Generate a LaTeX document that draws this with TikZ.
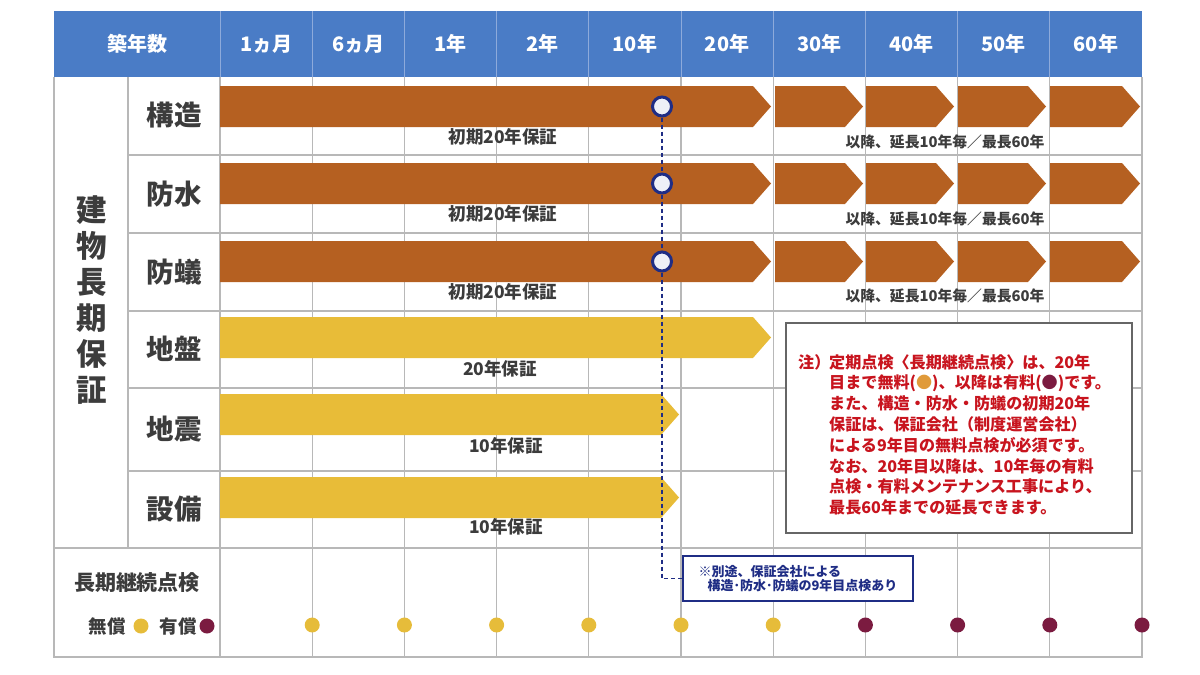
\documentclass[tikz,border=0pt]{standalone}
\usepackage{fontspec}
\setmainfont{Noto Sans CJK JP}
\usetikzlibrary{positioning,backgrounds}
\definecolor{hdrblue}{HTML}{4A7CC6}
\definecolor{hdrsep}{HTML}{8DAADB}
\definecolor{gridgray}{HTML}{B8B8B8}
\definecolor{txtgray}{HTML}{3C3C3C}
\definecolor{barbrown}{HTML}{B56021}
\definecolor{baryellow}{HTML}{E8BC38}
\definecolor{navy}{HTML}{1F2D85}
\definecolor{chkfill}{HTML}{EEF0F7}
\definecolor{dotyellow}{HTML}{E6BC3A}
\definecolor{dotorange}{HTML}{E09A3A}
\definecolor{dotmaroon}{HTML}{7B1B40}
\definecolor{notered}{HTML}{C8141E}
\tikzset{
  hdr/.style={font=\bfseries\fontsize{20}{20}\selectfont, text=white},
  rowlbl/.style={font=\bfseries\fontsize{27.5}{27.5}\selectfont, text=txtgray},
  barlbl/.style={font=\bfseries\fontsize{17.5}{17.5}\selectfont, text=txtgray},
  extlbl/.style={font=\bfseries\fontsize{14.8}{14.8}\selectfont, text=txtgray},
  notetxt/.style={font=\bfseries\fontsize{16.1}{16.1}\selectfont, text=notered, inner sep=0pt, anchor=west},
  gridline/.style={draw=gridgray, line width=1.2pt},
  chk/.style={circle, draw=navy, line width=3pt, fill=chkfill, minimum size=19pt, inner sep=0pt},
  freedot/.style={circle, fill=dotyellow, minimum size=15pt, inner sep=0pt},
  paiddot/.style={circle, fill=dotmaroon, minimum size=15pt, inner sep=0pt},
  tenline/.style={draw=navy, line width=1.2pt, dash pattern=on 4pt off 3pt},
}
% arrow-shaped bar: from x #1 to tip #2, top #3, colour #4
\newcommand\warbar[4]{\fill[#4] (#1,#3) -- ({#2-18},#3) -- (#2,{#3+20.5}) -- ({#2-18},{#3+41}) -- (#1,{#3+41}) -- cycle;}

\begin{document}
\begin{tikzpicture}[x=1pt, y=-1pt]
  \useasboundingbox (0,0) rectangle (1200,675);
  % header
  \fill[hdrblue] (54,11) rectangle (1142,77);
  \foreach \i in {0,...,9}
    \draw[hdrsep, line width=1pt] ({220+92.2*\i},11) -- ({220+92.2*\i},77);
  \node[hdr] (hyear) at (137,44) {築年数};
  \foreach \t [count=\i] in {1ヵ月,6ヵ月,1年,2年,10年,20年,30年,40年,50年,60年}
    \node[hdr] (h\i) at ({220+92.2*(\i-0.5)},44) {\t};

  % grid
  \foreach \y in {155,233,311,388,471}
    \draw[gridline] (128,\y) -- (1142,\y);
  \draw[gridline] (54,548) -- (1142,548);
  \draw[gridline] (128,77) -- (128,548);
  \foreach \i in {0,...,9}
    \draw[gridline] ({220+92.2*\i},77) -- ({220+92.2*\i},657);
  \draw[gridline] (54,77) -- (54,657) -- (1142,657) -- (1142,77);

  % row labels
  \node[font=\bfseries\fontsize{30.5}{36}\selectfont, text=txtgray, align=center] (bldg) at (92,300)
    {建\\物\\長\\期\\保\\証};
  \foreach \t/\y [count=\i] in {構造/115,防水/194,防蟻/272,地盤/349,地震/429,設備/509}
    \node[rowlbl] (r\i) at (174,\y) {\t};

  % bars
  \foreach \y in {86,163,241} {
    \warbar{220}{771}{\y}{barbrown}
    \warbar{775}{863}{\y}{barbrown}
    \warbar{866}{954}{\y}{barbrown}
    \warbar{958}{1046}{\y}{barbrown}
    \warbar{1050}{1140}{\y}{barbrown}
  }
  \warbar{220}{771}{317}{baryellow}
  \warbar{220}{679}{394}{baryellow}
  \warbar{220}{679}{477}{baryellow}

  \foreach \y [count=\i] in {137,214,292}
    \node[barlbl] (init\i) at (503,\y) {初期20年保証};
  \foreach \y [count=\i] in {142,219,296}
    \node[extlbl] (ext\i) at (945,\y) {以降、延長10年毎／最長60年};
  \node[barlbl] (g20) at (500,369) {20年保証};
  \node[barlbl] (q10) at (506,446) {10年保証};
  \node[barlbl] (e10) at (506,527) {10年保証};

  % 9th-year check
  \node[chk] (c1) at (662,106.5) {};
  \node[chk] (c2) at (662,183.5) {};
  \node[chk] (c3) at (662,261.5) {};
  \node[draw=navy, line width=1.5pt, fill=white, minimum width=230pt, minimum height=45pt,
        text=navy, font=\bfseries\fontsize{13}{14}\selectfont, align=left] (chknote) at (798,578.5)
    {※別途、保証会社による\\\hspace*{9pt}構造･防水･防蟻の9年目点検あり};
  \draw[tenline] (c1) -- (c2);
  \draw[tenline] (c2) -- (c3);
  \draw[tenline] (c3) |- (chknote.west);

  % note
  \node[draw=black!60, line width=1.5pt, fill=white, minimum width=346pt, minimum height=210pt] (notebox) at (959,428) {};
  \node[notetxt] (nhead) at (798,362) {注）};
  \foreach \ln [count=\k from 0] in {
      {定期点検〈長期継続点検〉は、20年},
      {目まで無料({\color{dotorange}●})、以降は有料({\color{dotmaroon}●})です。},
      {また、構造・防水・防蟻の初期20年},
      {保証は、保証会社（制度運営会社）},
      {による9年目の無料点検が必須です。},
      {なお、20年目以降は、10年毎の有料},
      {点検・有料メンテナンス工事により、},
      {最長60年までの延長できます。}}
    \node[notetxt] (n\k) at (829,{362+20.8*\k}) {\ln};

  % periodic checks
  \node[font=\bfseries\fontsize{21}{21}\selectfont, text=txtgray] (chklbl) at (137,583) {長期継続点検};
  \node[font=\bfseries\fontsize{18.5}{18.5}\selectfont, text=txtgray] (freelbl) at (107,626) {無償};
  \node[freedot] (freekey) at (141,626) {};
  \node[font=\bfseries\fontsize{18.5}{18.5}\selectfont, text=txtgray] (paidlbl) at (178,626) {有償};
  \node[paiddot] (paidkey) at (207,626) {};
  \foreach \i in {1,...,6}
    \node[freedot] (f\i) at ({220+92.2*\i},625) {};
  \foreach \i in {7,...,10}
    \node[paiddot] (p\i) at ({220+92.2*\i},625) {};
\end{tikzpicture}
\end{document}
